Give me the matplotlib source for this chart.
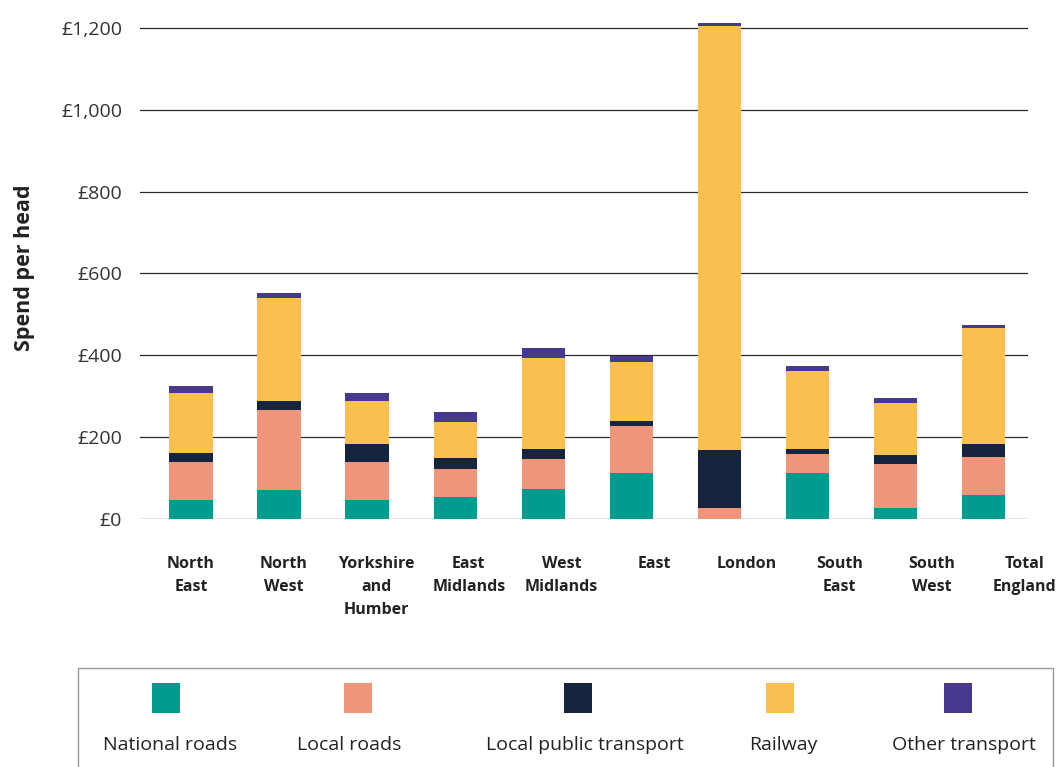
import numpy as np
import matplotlib
matplotlib.use("Agg")
import matplotlib.pyplot as plt
from matplotlib.patches import Rectangle

plt.rcParams['font.family'] = ['Open Sans', 'DejaVu Sans']

# Spend per head (£) by region, stacked by transport type
regions = ["North\nEast", "North\nWest", "Yorkshire\nand\nHumber", "East\nMidlands",
           "West\nMidlands", "East", "London", "South\nEast", "South\nWest", "Total\nEngland"]
national_roads = [46, 70, 47, 54, 74, 112, 0, 112, 28, 59]
local_roads = [93, 197, 92, 68, 73, 116, 27, 48, 106, 92]
local_public_transport = [22, 22, 44, 28, 23, 11, 141, 12, 23, 33]
railway = [146, 251, 106, 88, 224, 145, 1037, 190, 126, 282]
other_transport = [17, 13, 18, 23, 23, 14, 7, 13, 12, 8]

series_names = ["National roads", "Local roads", "Local public transport", "Railway", "Other transport"]
series_colors = ["#009B8F", "#F0957A", "#16253D", "#F9C04F", "#463A8F"]
yticks = [0, 200, 400, 600, 800, 1000, 1200]
ytick_labels = ["£0", "£200", "£400", "£600", "£800", "£1,000", "£1,200"]

W, H = 1064, 767
fig = plt.figure(figsize=(W / 100, H / 100), dpi=100)
ax = fig.add_axes([140 / W, 1 - 519 / H, (1028 - 140) / W, (519 - 15.7) / H])

x = np.arange(len(regions))
bottom = np.zeros(len(regions))
for vals, name, col in zip([national_roads, local_roads, local_public_transport, railway, other_transport],
                           series_names, series_colors):
    ax.bar(x, vals, width=0.49, bottom=bottom, color=col, label=name, zorder=3)
    bottom += np.array(vals)

ax.set_xlim(-0.58, 9.51)
ax.set_ylim(0, 1230)
for yv in yticks:
    ax.axhline(yv, color="#2a2a2a", linewidth=0.9, zorder=1)
ax.set_yticks(yticks)
ax.set_yticklabels(ytick_labels, fontsize=14, color="#333333")
ax.tick_params(axis="y", length=0, pad=13)

# labels are spread slightly wider than the bars in the original
ax.set_xticks(x * 92.6 / 88)
ax.set_xticklabels(regions, fontsize=11.5, fontweight="bold", color="#222222", linespacing=1.58)
ax.tick_params(axis="x", length=0, pad=27)
for lab in ax.get_xticklabels():
    lab.set_verticalalignment("top")

for s in ax.spines.values():
    s.set_visible(False)

fig.text(25 / W, 1 - 268 / H, "Spend per head", rotation=90, ha="center", va="center",
         fontsize=15.5, fontweight="bold", color="#222222")

# legend box drawn by hand: swatches above labels
fig.patches.append(Rectangle((78 / W, -0.05), (1053 - 78) / W, 0.05 + 1 - 668 / H,
                             transform=fig.transFigure, fill=False, edgecolor="#999999", linewidth=1.0))
sw_x = [166, 358, 578, 780, 958]
lab_x = [170, 349, 585, 783, 964]
for sx, lx, name, col in zip(sw_x, lab_x, series_names, series_colors):
    fig.patches.append(Rectangle(((sx - 14) / W, 1 - 713 / H), 28 / W, 30 / H,
                                 transform=fig.transFigure, facecolor=col, edgecolor="none"))
    fig.text(lx / W, 1 - 745 / H, name, ha="center", va="center", fontsize=14, color="#222222")

fig.savefig("out.png", dpi=100)
